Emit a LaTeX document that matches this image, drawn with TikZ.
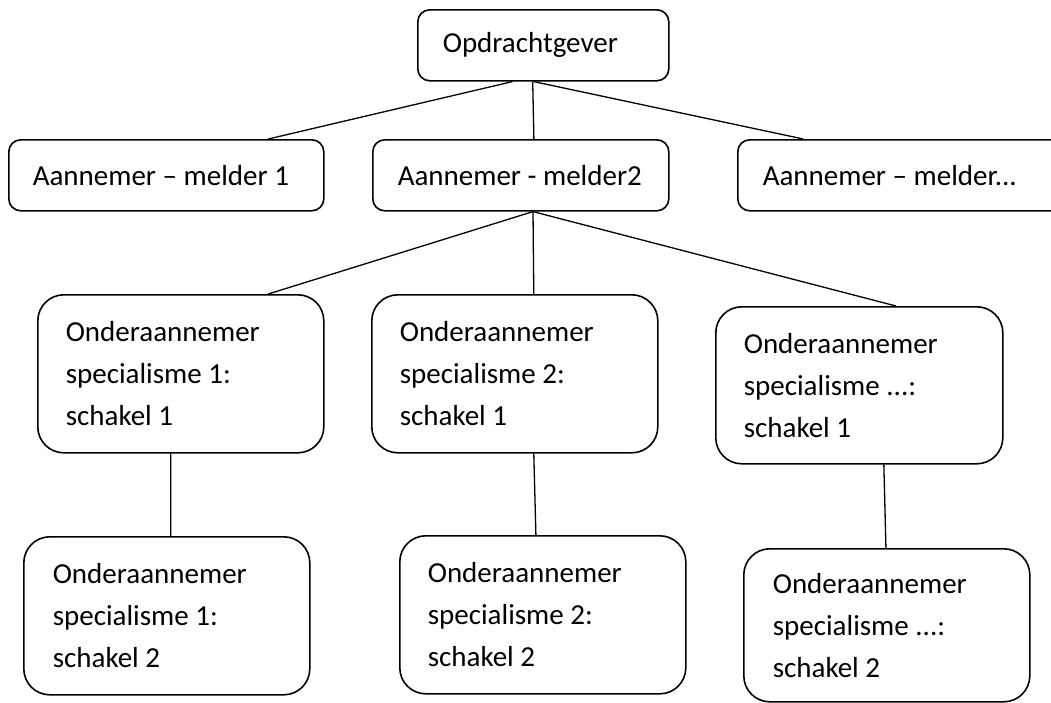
\documentclass[tikz,border=0pt]{standalone}
\usepackage{fontspec}
\setmainfont{Carlito}
\usetikzlibrary{calc}
\begin{document}
\begin{tikzpicture}[x=1pt,y=-1pt,
  box/.style={draw, line width=1.6pt, anchor=north west, align=flush left,
    inner ysep=0pt, font=\fontsize{29}{42}\selectfont},
  lowbox/.style={box, rounded corners=12pt, minimum height=71pt},
  tallbox/.style={box, rounded corners=26pt, minimum height=158pt, inner xsep=28pt, text width=230pt},
  conn/.style={line width=1.3pt}]
\useasboundingbox (0,0) rectangle (1051,702);

\node[lowbox, inner xsep=25pt, text width=201pt] (opd) at (417,9) {\mbox{Opdrachtgever}};
\node[lowbox, inner xsep=24pt, text width=267pt] (m1) at (8,139) {\mbox{Aannemer – melder 1}};
\node[lowbox, inner xsep=25pt, text width=246pt] (m2) at (372,139) {\mbox{Aannemer - melder2}};
\node[lowbox, inner xsep=25pt, text width=280pt] (m3) at (737,139) {\mbox{Aannemer – melder...}};

\node[tallbox] (s11) at (37,294) {Onderaannemer\\specialisme 1:\\schakel 1};
\node[tallbox] (s21) at (371,294) {Onderaannemer\\specialisme 2:\\schakel 1};
\node[tallbox, minimum height=157pt, text width=231pt] (s31) at (715,306) {Onderaannemer\\specialisme ...:\\schakel 1};

\node[tallbox, inner xsep=29pt, text width=228pt] (s12) at (23,536) {Onderaannemer\\specialisme 1:\\schakel 2};
\node[tallbox] (s22) at (399,535) {Onderaannemer\\specialisme 2:\\schakel 2};
\node[tallbox, inner xsep=29pt, text width=228pt, minimum height=153pt] (s32) at (743,548) {Onderaannemer\\specialisme ...:\\schakel 2};

\draw[conn] ($(opd.south west)!0.378!(opd.south east)$) -- ($(m1.north west)!0.822!(m1.north east)$);
\draw[conn] ($(opd.south west)!0.458!(opd.south east)$) -- ($(m2.north west)!0.544!(m2.north east)$);
\draw[conn] ($(opd.south west)!0.462!(opd.south east)$) -- ($(m3.north west)!0.2!(m3.north east)$);

\draw[conn] ($(m2.south west)!0.541!(m2.south east)$) -- ($(s11.north west)!0.804!(s11.north east)$);
\draw[conn] ($(m2.south west)!0.541!(m2.south east)$) -- ($(s21.north west)!0.566!(s21.north east)$);
\draw[conn] ($(m2.south west)!0.541!(m2.south east)$) -- ($(s31.north west)!0.627!(s31.north east)$);

\draw[conn] ($(s11.south west)!0.465!(s11.south east)$) -- ($(s12.north west)!0.514!(s12.north east)$);
\draw[conn] ($(s21.south west)!0.566!(s21.south east)$) -- ($(s22.north west)!0.476!(s22.north east)$);
\draw[conn] ($(s31.south west)!0.585!(s31.south east)$) -- ($(s32.north west)!0.497!(s32.north east)$);
\end{tikzpicture}
\end{document}
